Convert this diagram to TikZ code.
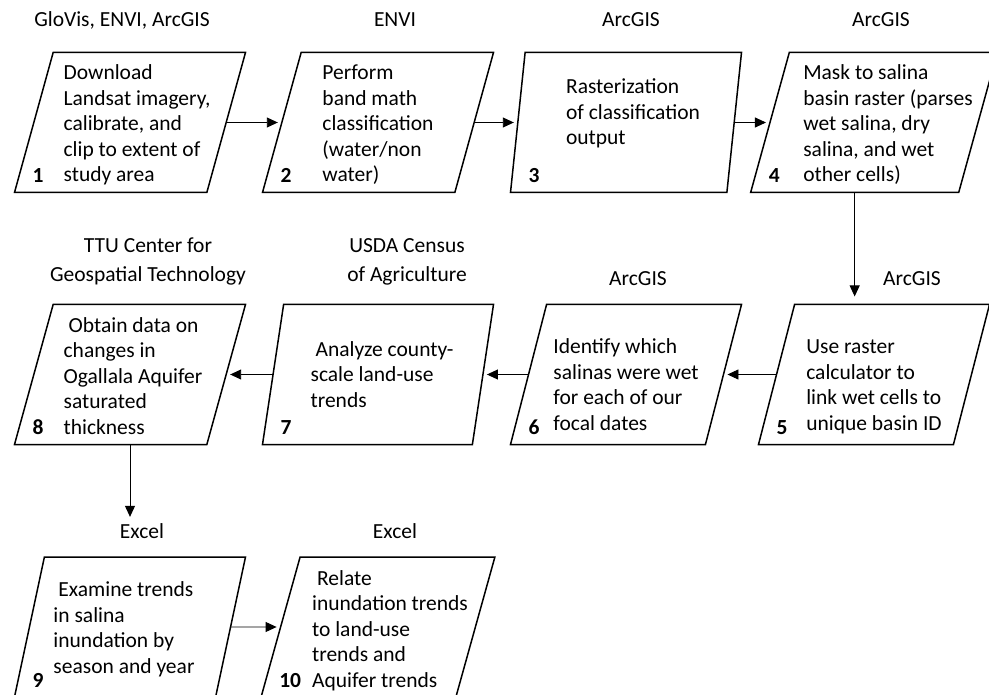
\documentclass[tikz,border=0pt]{standalone}
\usepackage{fontspec}
\setmainfont{Carlito}
\usetikzlibrary{arrows.meta,positioning,shapes.geometric}

% text block of a step, drawn shifted right by the optional length
\newcommand{\steptext}[2][0pt]{\hspace*{#1}\begin{tabular}[b]{@{}l@{}}#2\end{tabular}\hspace*{-#1}}

\tikzset{
  stepbox/.style={draw, line width=1.5pt, trapezium,
    trapezium left angle=72, trapezium right angle=108,
    trapezium stretches body, minimum width=231pt, minimum height=140pt,
    inner sep=0pt, outer sep=0pt, text height=119pt, text depth=0pt,
    font=\fontsize{21.5}{25.5}\selectfont},
  stepnum/.style={anchor=base west, inner sep=0pt,
    font=\fontsize{21.5}{25.5}\selectfont\bfseries},
  toollabel/.style={anchor=base, align=center, inner sep=0pt,
    font=\fontsize{21.5}{29}\selectfont},
  flow/.style={-{Triangle[length=11pt,width=10pt]}, line width=0.9pt,
    shorten >=4pt},
}

\begin{document}
\begin{tikzpicture}[x=1pt, y=-1pt]
\useasboundingbox (0,0) rectangle (989,695);

% row 1
\node[stepbox] (b1) at (130,122.5) {\steptext[7pt]{Download\\Landsat imagery,\\calibrate, and\\clip to extent of\\study area}};
\node[stepbox] (b2) at (378,122.5) {\steptext{Perform\\band math\\classification\\(water/non\\water)}};
\node[stepbox, text height=45pt] (b3) at (626,122.5) {\steptext[7pt]{Rasterization\\of classification\\output}};
\node[stepbox] (b4) at (874,122.5) {\steptext[14pt]{Mask to salina\\basin raster (parses\\wet salina, dry\\salina, and wet\\other cells)}};

% row 2
\node[stepbox, text height=111pt] (b5) at (874,374.5) {\steptext{Use raster\\calculator to\\link wet cells to\\unique basin ID}};
\node[stepbox, text height=111pt] (b6) at (626,374.5) {\steptext{Identify which\\salinas were wet\\for each of our\\focal dates}};
\node[stepbox, text height=65pt] (b7) at (378,374.5) {\steptext[4pt]{\hspace*{5pt}Analyze county-\\scale land-use\\trends}};
\node[stepbox] (b8) at (130,374.5) {\steptext[3pt]{\hspace*{5pt}Obtain data on\\changes in\\Ogallala Aquifer\\saturated\\thickness}};

% row 3
\node[stepbox, text height=92pt] (b9) at (130,627) {\steptext[-6pt]{\hspace*{5pt}Examine trends\\in salina\\inundation by\\season and year}};
\node[stepbox, text height=120pt] (b10) at (378,627) {\steptext[12pt]{\hspace*{5pt}Relate\\inundation trends\\to land-use\\trends and\\Aquifer trends}};

% step numbers
\foreach \i in {1,...,10}
  \node[stepnum] (n\i) at ([xshift=18pt,yshift=10pt]b\i.bottom left corner) {\i};

% software used for each step
\node[toollabel] (t1) at (122,27) {GloVis, ENVI, ArcGIS};
\node[toollabel] (t2) at (395,27) {ENVI};
\node[toollabel] (t3) at (631,27) {ArcGIS};
\node[toollabel] (t4) at (881,27) {ArcGIS};
\node[toollabel] (t5) at (912,286) {ArcGIS};
\node[toollabel] (t6) at (638,286) {ArcGIS};
\node[toollabel] (t7) at (407,282) {USDA Census\\of Agriculture};
\node[toollabel] (t8) at (148,282) {TTU Center for\\Geospatial Technology};
\node[toollabel] (t9) at (142,538) {Excel};
\node[toollabel] (t10) at (395,538) {Excel};

% flow
\draw[flow] (b1.east) -- (b2.west);
\draw[flow] (b2.east) -- (b3.west);
\draw[flow] (b3.east) -- (b4.west);
\draw[flow, shorten >=8pt] (b4.bottom side) -- (b4.bottom side |- b5.north);
\draw[flow] (b5.west) -- (b6.east);
\draw[flow] (b6.west) -- (b7.east);
\draw[flow] (b7.west) -- (b8.east);
\draw[flow, shorten >=6pt] (b8.center |- b8.south) -- (b8.center |- t9.north);
\draw[flow] (b9.east) -- (b10.west);
\end{tikzpicture}
\end{document}
